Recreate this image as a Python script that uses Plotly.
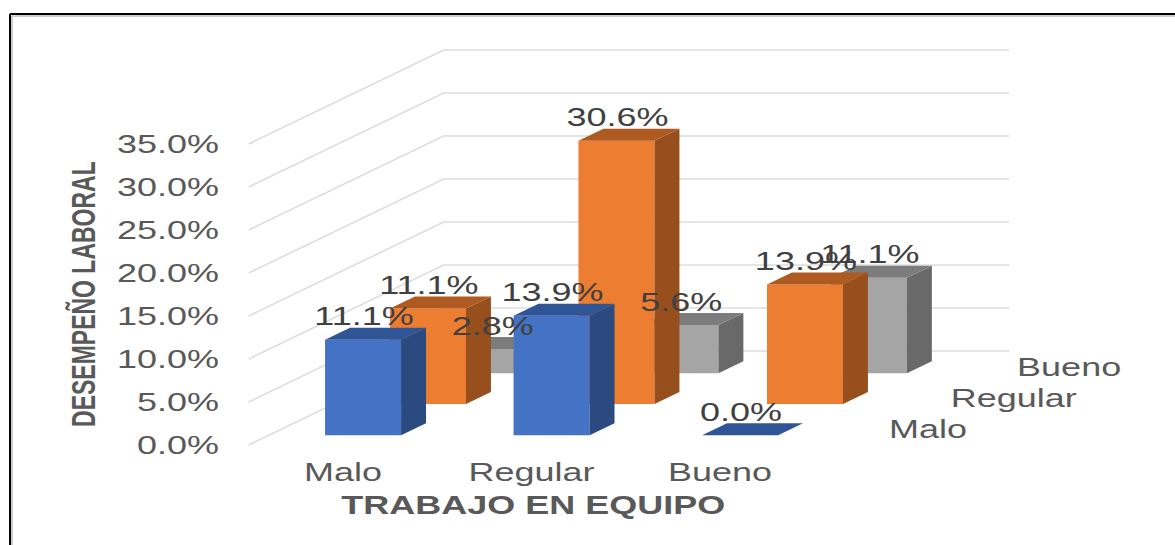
import plotly.graph_objects as go

# datos (porcentajes)
categorias = ['Malo', 'Regular', 'Bueno']
series = ['Malo', 'Regular', 'Bueno']
valores_malo = [11.1, 13.9, 0.0]
valores_regular = [11.1, 30.6, 13.9]
valores_bueno = [2.8, 5.6, 11.1]
ticks_y = [0, 5, 10, 15, 20, 25, 30, 35]
etiquetas_y = ['0.0%', '5.0%', '10.0%', '15.0%', '20.0%', '25.0%', '30.0%', '35.0%']

colores = {
    'Malo': ('#4472C4', '#2A4A80', '#2F5597'),
    'Regular': ('#ED7D31', '#964F1D', '#AE5A21'),
    'Bueno': ('#A5A5A5', '#696969', '#7C7C7C'),
}

# proyeccion oblicua: la profundidad (0 a 1) desplaza x e y
DEPTH_X = 1.034
DEPTH_Y = 10.93
MEDIO_ANCHO = 0.2016
PROF_BARRA = 0.128
FONDO_FILA = [0.103, 0.436, 0.764]
CAT_NOMBRE_SERIE = [2.997, 3.111, 3.061]

FUENTE = 'Liberation Sans'
GRIS = '#595959'
TAM = 25

IZQ = 226
ABAJO = 455

# la imagen original esta estirada a lo ancho, asi que se estira el texto igual
ESTIRAR_TEXTO = """
document.body.style.margin = '0';
document.querySelectorAll('.main-svg text').forEach(function (t) {
    var k = 1.44;
    var b = t.getBBox();
    var previa = t.getAttribute('transform') || '';
    var extra;
    if (Math.abs(t.getCTM().a) < 0.01) {
        var ay = b.y + b.height / 2;
        extra = ' translate(0,' + ay + ') scale(1,' + k + ') translate(0,' + (-ay) + ')';
    } else {
        var ax = t.getAttribute('text-anchor') === 'end' ? b.x + b.width : b.x + b.width / 2;
        extra = ' translate(' + ax + ',0) scale(' + k + ',1) translate(' + (-ax) + ',0)';
    }
    t.setAttribute('transform', previa + extra);
});
"""


def proyectar(cat, valor, prof):
    return cat + prof * DEPTH_X, valor + prof * DEPTH_Y


def cara(puntos, color):
    xs, ys = zip(*[proyectar(*p) for p in puntos + puntos[:1]])
    return go.Scatter(x=xs, y=ys, mode='lines', fill='toself', fillcolor=color,
                      line=dict(width=0, color=color), hoverinfo='skip', showlegend=False)


def papel_x(px):
    return (px - IZQ) / (1175 - IZQ)


def papel_y(py):
    return (ABAJO - py) / ABAJO


fig = go.Figure()

# paredes: cada linea va del frente al fondo y luego a la derecha
for t in ticks_y:
    puntos = [proyectar(-0.5, t, 0), proyectar(-0.5, t, 1), proyectar(2.5, t, 1)]
    xs, ys = zip(*puntos)
    fig.add_trace(go.Scatter(x=xs, y=ys, mode='lines', line=dict(color='#DDDDDD', width=1.6),
                             hoverinfo='skip', showlegend=False))

# barras, de atras hacia adelante
valores = [valores_malo, valores_regular, valores_bueno]
for fila in [2, 1, 0]:
    frente, lado, tapa = colores[series[fila]]
    p0 = FONDO_FILA[fila]
    p1 = p0 + PROF_BARRA
    for i, v in enumerate(valores[fila]):
        a = i - MEDIO_ANCHO
        b = i + MEDIO_ANCHO
        fig.add_trace(cara([(a, 0, p0), (b, 0, p0), (b, v, p0), (a, v, p0)], frente))
        fig.add_trace(cara([(b, 0, p0), (b, 0, p1), (b, v, p1), (b, v, p0)], lado))
        fig.add_trace(cara([(a, v, p0), (b, v, p0), (b, v, p1), (a, v, p1)], tapa))

# etiquetas de datos encima de todo
for fila in [2, 1, 0]:
    p0 = FONDO_FILA[fila]
    for i, v in enumerate(valores[fila]):
        x, y = proyectar(i + 0.005, v + 2.4, p0)
        fig.add_trace(go.Scatter(x=[x], y=[y], mode='text', text=[f'{v:.1f}%'],
                                 textposition='middle center', hoverinfo='skip', showlegend=False,
                                 textfont=dict(family=FUENTE, size=TAM, color='#404040')))

# nombres de las series a la derecha
for fila, nombre in enumerate(series):
    x, y = proyectar(CAT_NOMBRE_SERIE[fila], 0.7, FONDO_FILA[fila])
    fig.add_annotation(x=x, y=y, text=nombre, showarrow=False,
                       font=dict(family=FUENTE, size=TAM, color=GRIS))

# titulos de los ejes
fig.add_annotation(xref='paper', yref='paper', x=papel_x(533), y=papel_y(505), xanchor='center', yanchor='middle',
                   text='<b>TRABAJO EN EQUIPO</b>', showarrow=False,
                   font=dict(family=FUENTE, size=TAM, color=GRIS))
fig.add_annotation(xref='paper', yref='paper', x=papel_x(83), y=papel_y(294), xanchor='center', yanchor='middle',
                   text='<b>DESEMPEÑO LABORAL</b>', textangle=-90, showarrow=False,
                   font=dict(family=FUENTE, size=23, color=GRIS))

# marco recortado de la imagen original
for desfase, color, ancho in [(2, '#CCCCCC', 2), (0, '#000000', 2)]:
    fig.add_shape(type='line', xref='paper', yref='paper', line=dict(color=color, width=ancho),
                  x0=papel_x(10 + desfase), x1=papel_x(10 + desfase), y0=papel_y(545), y1=papel_y(14 + desfase))
    fig.add_shape(type='line', xref='paper', yref='paper', line=dict(color=color, width=ancho),
                  x0=papel_x(10 + desfase), x1=papel_x(1175), y0=papel_y(14 + desfase), y1=papel_y(14 + desfase))

fig.update_layout(
    width=1175,
    height=545,
    margin=dict(l=IZQ, r=0, t=0, b=545 - ABAJO),
    paper_bgcolor='white',
    plot_bgcolor='white',
    xaxis=dict(
        range=[(IZQ - 343) / 188.5, (1175 - 343) / 188.5],
        tickmode='array', tickvals=[0, 1, 2], ticktext=categorias,
        showgrid=False, zeroline=False, showline=False, ticks='',
        tickfont=dict(family=FUENTE, size=TAM, color=GRIS),
    ),
    yaxis=dict(
        range=[(445 - ABAJO) / 8.6, 445 / 8.6],
        tickmode='array', tickvals=ticks_y, ticktext=etiquetas_y,
        showgrid=False, zeroline=False, showline=False,
        ticks='outside', ticklen=1, tickcolor='rgba(0,0,0,0)',
        tickfont=dict(family=FUENTE, size=TAM, color=GRIS),
    ),
)

fig.write_html("out.html", post_script=ESTIRAR_TEXTO, config=dict(displayModeBar=False))
